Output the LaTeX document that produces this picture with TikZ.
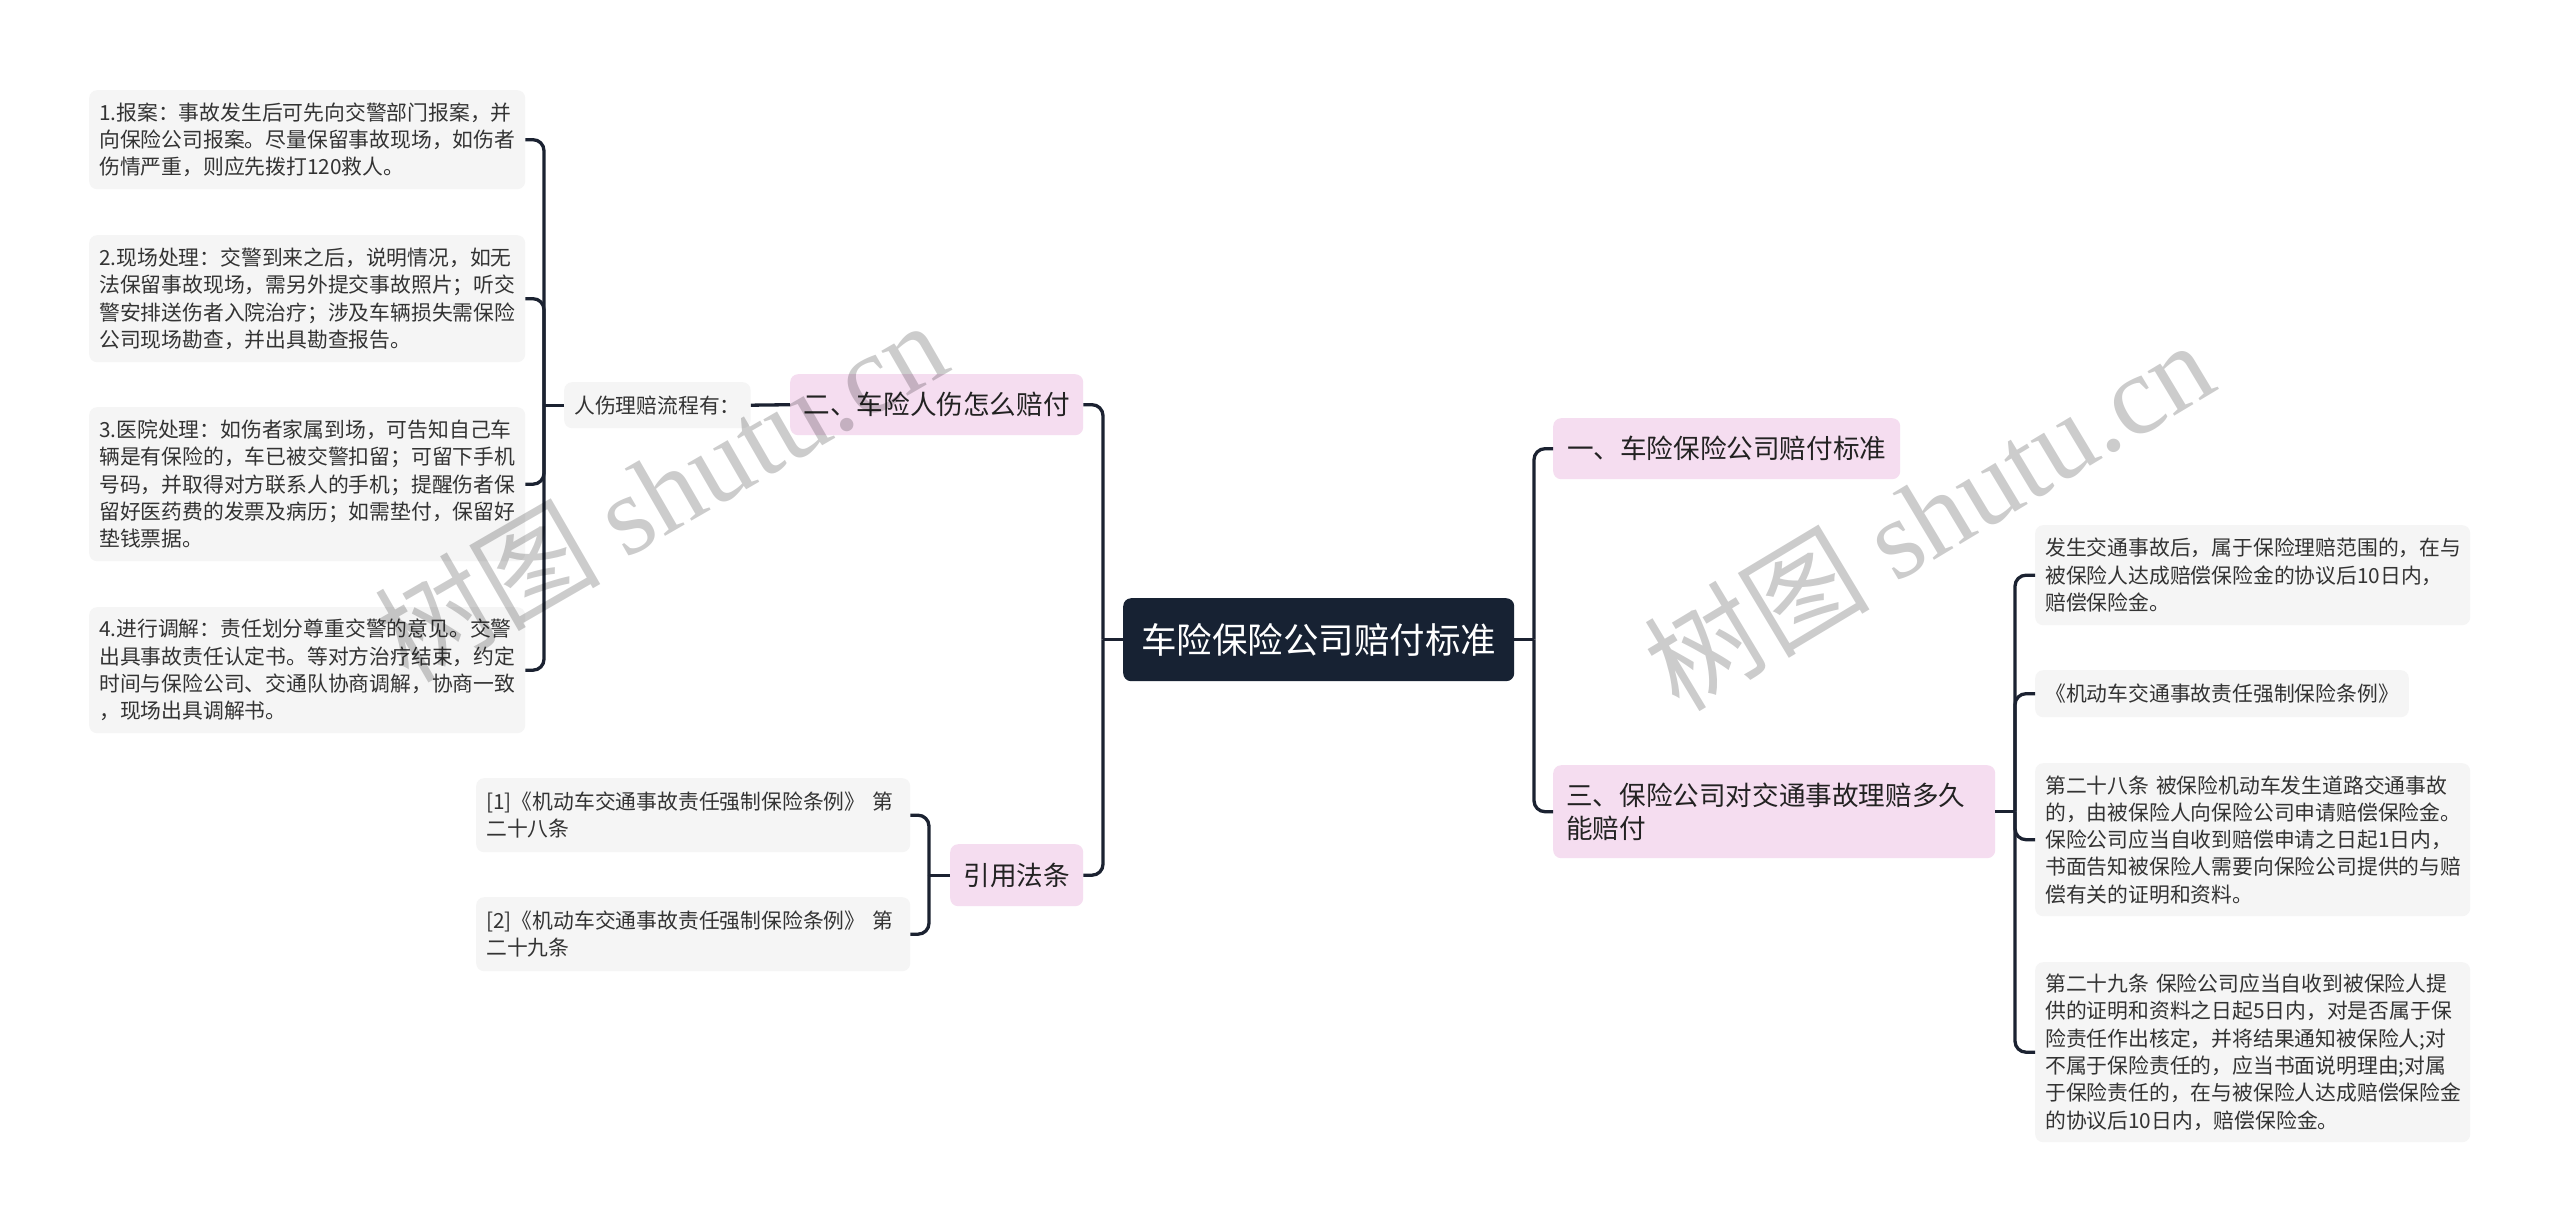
\documentclass[tikz,border=0pt]{standalone}
\usepackage{fontspec}
\setmainfont{Noto Sans CJK SC}
\newfontfamily\cjkf{Noto Sans CJK SC}
\newfontfamily\wmlat{Liberation Serif}
\definecolor{leafgray}{HTML}{F5F5F5}
\definecolor{pinkbox}{HTML}{F5DDF0}
\definecolor{navy}{HTML}{172233}
\definecolor{linec}{HTML}{1B2231}
\definecolor{txtc}{HTML}{333333}
\definecolor{txtl}{HTML}{222222}
\tikzset{
  leaf/.style={fill=leafgray, rounded corners=8pt, text=txtc, font=\fontsize{20.8}{27.3}\selectfont, align=left, inner xsep=10pt, inner ysep=0pt, anchor=north west},
  lvone/.style={fill=pinkbox, rounded corners=8pt, text=txtl, font=\fontsize{26.6}{33}\selectfont, align=left, inner xsep=13pt, inner ysep=0pt, anchor=north west},
  rootbox/.style={fill=navy, rounded corners=8pt, text=white, font=\fontsize{35.5}{40}\selectfont, inner xsep=18pt, inner ysep=0pt, anchor=north west},
  conn/.style={draw=linec, line width=3.3pt},
  elbow/.style={conn, rounded corners=11pt},
  wm/.style={text=black, text opacity=0.2, font=\fontsize{113}{118}\selectfont, inner sep=0pt}
}
\begin{document}
\begin{tikzpicture}[x=1pt,y=-1pt]
\useasboundingbox (0,0) rectangle (2560,1231);
\fill[white] (0,0) rectangle (2560,1231);

% root
\node[rootbox, minimum width=391pt, minimum height=83pt] (root) at (1123,598) {车险保险公司赔付标准};

% level one
\node[lvone, minimum width=293pt, minimum height=61pt] (n2) at (790,374) {二、车险人伤怎么赔付};
\node[lvone, minimum width=133pt, minimum height=62pt] (nref) at (950,844) {引用法条};
\node[lvone, minimum width=347pt, minimum height=61pt] (n1) at (1553,418) {一、车险保险公司赔付标准};
\node[lvone, text width=416pt, minimum height=93pt] (n3) at (1553,765) {三、保险公司对交通事故理赔多久\\能赔付};

% left leaves
\node[leaf, minimum width=186pt, minimum height=46pt, align=center] (rs) at (564,382) {人伤理赔流程有：};
\node[leaf, text width=416pt, minimum height=99pt] (l1) at (89,90) {1.报案：事故发生后可先向交警部门报案，并\\向保险公司报案。尽量保留事故现场，如伤者\\伤情严重，则应先拨打120救人。};
\node[leaf, text width=416pt, minimum height=127pt] (l2) at (89,235) {2.现场处理：交警到来之后，说明情况，如无\\法保留事故现场，需另外提交事故照片；听交\\警安排送伤者入院治疗；涉及车辆损失需保险\\公司现场勘查，并出具勘查报告。};
\node[leaf, text width=416pt, minimum height=154pt] (l3) at (89,407) {3.医院处理：如伤者家属到场，可告知自己车\\辆是有保险的，车已被交警扣留；可留下手机\\号码，并取得对方联系人的手机；提醒伤者保\\留好医药费的发票及病历；如需垫付，保留好\\垫钱票据。};
\node[leaf, text width=416pt, minimum height=126pt] (l4) at (89,607) {4.进行调解：责任划分尊重交警的意见。交警\\出具事故责任认定书。等对方治疗结束，约定\\时间与保险公司、交通队协商调解，协商一致\\，现场出具调解书。};

\node[leaf, text width=414pt, minimum height=74pt] (r1) at (476,778) {[1]《机动车交通事故责任强制保险条例》 第\\二十八条};
\node[leaf, text width=414pt, minimum height=74pt] (r2) at (476,897) {[2]《机动车交通事故责任强制保险条例》 第\\二十九条};

% right leaves
\node[leaf, text width=415pt, minimum height=100pt] (a) at (2035,525) {发生交通事故后，属于保险理赔范围的，在与\\被保险人达成赔偿保险金的协议后10日内，\\赔偿保险金。};
\node[leaf, minimum width=373pt, minimum height=47pt] (b) at (2035,670) {《机动车交通事故责任强制保险条例》};
\node[leaf, text width=415pt, minimum height=153pt] (c) at (2035,763) {第二十八条 被保险机动车发生道路交通事故\\的，由被保险人向保险公司申请赔偿保险金。\\保险公司应当自收到赔偿申请之日起1日内，\\书面告知被保险人需要向保险公司提供的与赔\\偿有关的证明和资料。};
\node[leaf, text width=415pt, minimum height=180pt] (d) at (2035,962) {第二十九条 保险公司应当自收到被保险人提\\供的证明和资料之日起5日内，对是否属于保\\险责任作出核定，并将结果通知被保险人;对\\不属于保险责任的，应当书面说明理由;对属\\于保险责任的，在与被保险人达成赔偿保险金\\的协议后10日内，赔偿保险金。};

% junction x positions
\coordinate (jroot-l) at (1103,0);
\coordinate (jroot-r) at (1534,0);
\coordinate (jrs) at (544,0);
\coordinate (jref) at (929,0);
\coordinate (jn3) at (2015,0);

% root connectors
\draw[conn] (root.west) -- (root.west -| jroot-l);
\draw[elbow] (root.west -| jroot-l) |- (n2.east);
\draw[elbow] (root.west -| jroot-l) |- (nref.east);
\draw[conn] (root.east) -- (root.east -| jroot-r);
\draw[elbow] (root.east -| jroot-r) |- (n1.west);
\draw[elbow] (root.east -| jroot-r) |- (n3.west);

% 二 -> 人伤
\draw[conn] (n2.west) -- (rs.east);
\draw[conn] (rs.west) -- (rs.west -| jrs);
\draw[elbow] (rs.west -| jrs) |- (l1.east);
\draw[elbow] (rs.west -| jrs) |- (l2.east);
\draw[elbow] (rs.west -| jrs) |- (l3.east);
\draw[elbow] (rs.west -| jrs) |- (l4.east);

% 引用
\draw[conn] (nref.west) -- (nref.west -| jref);
\draw[elbow] (nref.west -| jref) |- (r1.east);
\draw[elbow] (nref.west -| jref) |- (r2.east);

% 三
\draw[conn] (n3.east) -- (n3.east -| jn3);
\draw[elbow] (n3.east -| jn3) |- (a.west);
\draw[elbow] (n3.east -| jn3) |- (b.west);
\draw[elbow] (n3.east -| jn3) |- (c.west);
\draw[elbow] (n3.east -| jn3) |- (d.west);

% watermarks
\node[wm, rotate=30] (wm1) at (660,490) {\cjkf 树图 \wmlat shutu.cn};
\node[wm, rotate=31] (wm2) at (1928,514) {\cjkf 树图 \wmlat shutu.cn};
\end{tikzpicture}
\end{document}
